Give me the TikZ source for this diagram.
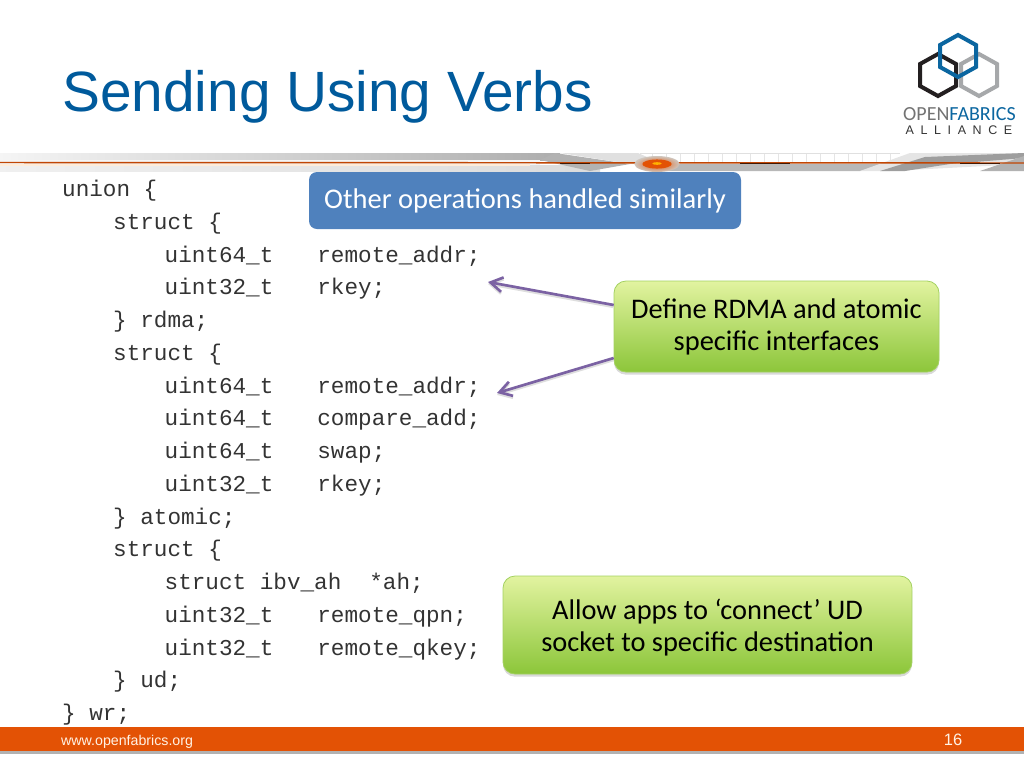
\documentclass[tikz,border=0pt]{standalone}
\usepackage{fontspec}
\setmainfont{Liberation Sans}
\newfontfamily\codefont{Liberation Mono}
\newfontfamily\boxfont{Carlito}
\usetikzlibrary{shadows,arrows.meta}
\definecolor{titleblue}{HTML}{005A9C}
\definecolor{barorange}{HTML}{E35205}
\definecolor{boxblue}{HTML}{4F81BD}
\definecolor{arrowpurple}{HTML}{7B62A3}
\definecolor{greentop}{HTML}{E2F3A0}
\definecolor{greenbot}{HTML}{8CC63A}
\definecolor{logogray}{HTML}{A6A8AA}
\definecolor{logoblack}{HTML}{231F20}
\definecolor{logoblue}{HTML}{0B66A0}
\tikzset{
  code/.style={anchor=base west,inner sep=0pt,font=\codefont\fontsize{22.65}{24}\selectfont,text=black!80},
  greenbox/.style={draw=greenbot!80!white,line width=0.6pt,rounded corners=9pt,top color=greentop,bottom color=greenbot,
    drop shadow={shadow xshift=0pt,shadow yshift=-2pt,opacity=0.3},
    align=center,font=\boxfont\fontsize{28.4}{32}\selectfont,text=black,inner sep=0pt},
  bluebox/.style={fill=boxblue,rounded corners=6pt,text=white,font=\boxfont\fontsize{28.5}{30}\selectfont,inner sep=0pt},
  pointer/.style={draw=arrowpurple,line width=2pt,-{Straight Barb[length=9pt,width=11pt]},
    preaction={draw=black!13,line width=2pt,transform canvas={yshift=-1.4pt}}},
  hexa/.style={line width=3pt,line join=miter},
}
\begin{document}
\begin{tikzpicture}[x=0.75pt,y=-0.75pt,every node/.append style={scale=0.75}]
\useasboundingbox (0,0) rectangle (1024,768);
% decorative band
\fill[left color=black!4,right color=black!32] (0,153) rectangle (560,160);
\fill[black!4] (0,160) rectangle (540,171);
\fill[left color=black!6,right color=black!14] (0,165) rectangle (600,171);
\fill[black!30] (555,153) -- (630,164) -- (590,171) -- (540,160) -- cycle;
\fill[black!12] (560,153) -- (638,153) -- (665,165) -- (630,164) -- cycle;
\foreach \gx in {652,666,...,890} \draw[black!10,line width=0.4pt] (\gx,153) -- (\gx,162);
\draw[black!12,line width=0.4pt] (640,153.5) -- (900,153.5);
\fill[black!28] (640,164) -- (890,164) -- (860,171) -- (650,171) -- cycle;
\fill[black!10] (860,171) -- (910,153) -- (1024,153) -- (1024,164) -- (890,171) -- cycle;
\fill[black!38] (880,171) -- (925,157) -- (1024,153) -- (1024,158) -- (950,164) -- (905,171) -- cycle;
\fill[black!30] (980,171) -- (1024,156) -- (1024,171) -- cycle;
\fill[orange!15] (0,164) rectangle (530,166);
\draw[barorange!85!black,line width=1.1pt] (0,162.5) -- (1024,163);
\draw[black!70!barorange,line width=1.2pt] (560,163.5) -- (590,163.5) (740,163.5) -- (790,163.5) (960,163.5) -- (1000,163.5);
\shade[inner color=barorange,outer color=orange!25!black!25] (657,164) ellipse (17pt and 6pt);
\fill[barorange] (657,164) ellipse (11pt and 3.4pt);
\fill[orange!60!yellow] (657,163.5) ellipse (3.5pt and 1pt);
% title
\node[anchor=base west,inner sep=0pt,text=titleblue,font=\fontsize{56.8}{60}\selectfont] (title) at (62,111) {Sending Using Verbs};
% logo
\draw[hexa,logogray] (979,54) -- (997,64) -- (997,86) -- (979,96) -- (961,86) -- (961,64) -- cycle;
\draw[hexa,logoblack] (938,54) -- (956,64) -- (956,86) -- (938,96) -- (920,86) -- (920,64) -- cycle;
\draw[hexa,logoblue] (958,35) -- (976,45) -- (976,67) -- (958,77) -- (940,67) -- (940,45) -- cycle;
\node[anchor=base west,inner sep=0pt,font=\boxfont\fontsize{20}{22}\selectfont] (logotext) at (903,120) {\textcolor{black!55}{OPEN}\textcolor{logoblue}{FABRICS}};
\node[anchor=base,inner sep=0pt,font=\fontsize{12.5}{13}\selectfont,text=black!80] (logosub) at (959,134.5) {A\hspace{6.6pt}L\hspace{6.6pt}L\hspace{6.6pt}I\hspace{6.6pt}A\hspace{6.6pt}N\hspace{6.6pt}C\hspace{6.6pt}E};
% code
\node[code] (l0) at (62,196) {union \{};
\node[code] (l1) at (113,229) {struct \{};
\node[code] (l2) at (164.5,262) {uint64\_t\hspace{44pt}remote\_addr;};
\node[code] (l3) at (164.5,294.75) {uint32\_t\hspace{44pt}rkey;};
\node[code] (l4) at (113,327.5) {\} rdma;};
\node[code] (l5) at (113,360) {struct \{};
\node[code] (l6) at (164.5,393) {uint64\_t\hspace{44pt}remote\_addr;};
\node[code] (l7) at (164.5,425.75) {uint64\_t\hspace{44pt}compare\_add;};
\node[code] (l8) at (164.5,458.5) {uint64\_t\hspace{44pt}swap;};
\node[code] (l9) at (164.5,491.25) {uint32\_t\hspace{44pt}rkey;};
\node[code] (l10) at (113,524) {\} atomic;};
\node[code] (l11) at (113,556.75) {struct \{};
\node[code] (l12) at (164.5,589.5) {struct ibv\_ah\hspace{28pt}*ah;};
\node[code] (l13) at (164.5,622.5) {uint32\_t\hspace{44pt}remote\_qpn;};
\node[code] (l14) at (164.5,655) {uint32\_t\hspace{44pt}remote\_qkey;};
\node[code] (l15) at (113,687.75) {\} ud;};
\node[code] (l16) at (62,720.5) {\} wr;};
% callouts
\node[bluebox,minimum width=432,minimum height=57] (other) at (525,200.5) {Other operations handled similarly};
\node[greenbox,minimum width=325,minimum height=91] (rdma) at (776.5,326.5) {Define RDMA and atomic\\specific interfaces};
\node[greenbox,minimum width=409,minimum height=98] (ud) at (707.5,625) {\rule{0pt}{25.5pt}Allow apps to ‘connect’ UD\\socket to specific destination};
\coordinate (t1) at (488,282);
\coordinate (t2) at (497,393);
\draw[pointer] (rdma.west |- 0,305) -- (t1);
\draw[pointer] (rdma.west |- 0,358) -- (t2);
% footer
\fill[black!30] (0,750) rectangle (1024,754);
\fill[barorange] (0,727) rectangle (1024,751);
\node[anchor=base west,inner sep=0pt,text=white!90!orange,font=\fontsize{14.2}{16}\selectfont] (url) at (61,745) {www.openfabrics.org};
\node[anchor=base,inner sep=0pt,text=white!90!orange,font=\fontsize{16.5}{18}\selectfont] (page) at (953,745.5) {16};
\end{tikzpicture}
\end{document}
